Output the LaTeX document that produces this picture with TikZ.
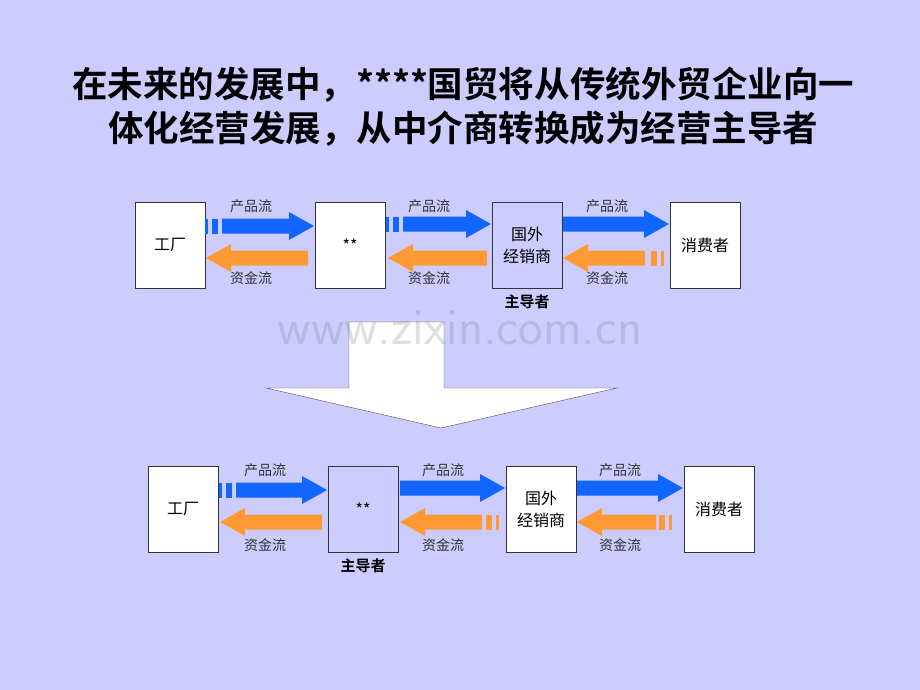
\documentclass[tikz,border=0pt]{standalone}
\usepackage{fontspec}
\newfontfamily\cjk{Noto Sans CJK SC}
\newfontfamily\cjkb{Noto Sans CJK SC Bold}
\usetikzlibrary{positioning}
\definecolor{bgpurple}{RGB}{204,204,255}
\definecolor{flowblue}{RGB}{16,102,255}
\definecolor{floworange}{RGB}{255,153,51}

% right-pointing product arrow: x1, x2, y
\newcommand{\prodflow}[3]{%
  \fill[flowblue] (#1,#3-7.5) -- (#2-25,#3-7.5) -- (#2-25,#3-14) -- (#2,#3)
    -- (#2-25,#3+14) -- (#2-25,#3+7.5) -- (#1,#3+7.5) -- cycle;}
% left-pointing money arrow: x1 (tip), x2, y
\newcommand{\cashflow}[3]{%
  \fill[floworange] (#2,#3-7.5) -- (#1+25,#3-7.5) -- (#1+25,#3-14) -- (#1,#3)
    -- (#1+25,#3+14) -- (#1+25,#3+7.5) -- (#2,#3+7.5) -- cycle;}
\newcommand{\bluetail}[2]{%
  \fill[flowblue] (#1,#2-7.5) rectangle (#1+3,#2+7.5);
  \fill[flowblue] (#1+7,#2-7.5) rectangle (#1+13,#2+7.5);}
\newcommand{\orangetail}[2]{%
  \fill[floworange] (#1-13,#2-7.5) rectangle (#1-7,#2+7.5);
  \fill[floworange] (#1-3,#2-7.5) rectangle (#1,#2+7.5);}

\begin{document}
\begin{tikzpicture}[x=1pt,y=-1pt,
  box/.style={draw=black!80,fill=white,minimum width=70pt,minimum height=86pt,
    inner sep=0pt,align=center,font=\cjk\fontsize{16}{22}\selectfont},
  lead/.style={box,fill=bgpurple},
  flowlbl/.style={font=\cjk\fontsize{14}{16}\selectfont,text=black!80},
  leadlbl/.style={font=\cjkb\fontsize{15}{17}\selectfont}]
\fill[bgpurple] (0,0) rectangle (920,690);
\useasboundingbox (0,0) rectangle (920,690);

% title
\node[font=\cjkb\fontsize{35.5}{44}\selectfont,align=center] (title) at (463,107)
  {在未来的发展中，****国贸将从传统外贸企业向一\\体化经营发展，从中介商转换成为经营主导者};

% upper chain
\node[box]  (factA) at (170,245) {工厂};
\node[box]  (midA)  at (350,245) {**};
\node[lead] (dlrA)  at (527,245) {国外\\经销商};
\node[box]  (custA) at (705,245) {消费者};
\node[leadlbl,below=3pt of dlrA] (leadA) {主导者};

\bluetail{205}{226}\prodflow{222}{314}{226}
\cashflow{206}{308}{258}
\bluetail{386}{224}\prodflow{403}{491}{224}
\cashflow{388}{487}{258}
\prodflow{563}{669}{224}
\cashflow{563}{645}{258}\orangetail{664}{258}

\node[flowlbl] at (251,206) {产品流};
\node[flowlbl] at (429,206) {产品流};
\node[flowlbl] at (607,206) {产品流};
\node[flowlbl] at (251,278) {资金流};
\node[flowlbl] at (429,278) {资金流};
\node[flowlbl] at (607,278) {资金流};

% transition arrow
\draw[fill=white,draw=black!70] (349,322) -- (444,322) -- (444,388) -- (617,388)
  -- (441,428) -- (266,388) -- (349,388) -- cycle;

% watermark
\node[font=\sffamily\fontsize{52}{52}\selectfont,text=gray,opacity=0.25] (mark) at (460,328) {www.zixin.com.cn};

% lower chain
\node[box]  (factB) at (183,509) {工厂};
\node[lead] (midB)  at (363,509) {**};
\node[box]  (dlrB)  at (541,509) {国外\\经销商};
\node[box]  (custB) at (719,509) {消费者};
\node[leadlbl,below=3pt of midB] (leadB) {主导者};

\bluetail{219}{490}\prodflow{236}{327}{490}
\cashflow{220}{322}{522}
\prodflow{400}{505}{488}
\cashflow{400}{482}{522}\orangetail{499}{522}
\prodflow{577}{683}{488}
\cashflow{577}{656}{522}\orangetail{672}{522}

\node[flowlbl] at (265,470) {产品流};
\node[flowlbl] at (443,470) {产品流};
\node[flowlbl] at (620,470) {产品流};
\node[flowlbl] at (265,545) {资金流};
\node[flowlbl] at (443,545) {资金流};
\node[flowlbl] at (620,545) {资金流};
\end{tikzpicture}
\end{document}
